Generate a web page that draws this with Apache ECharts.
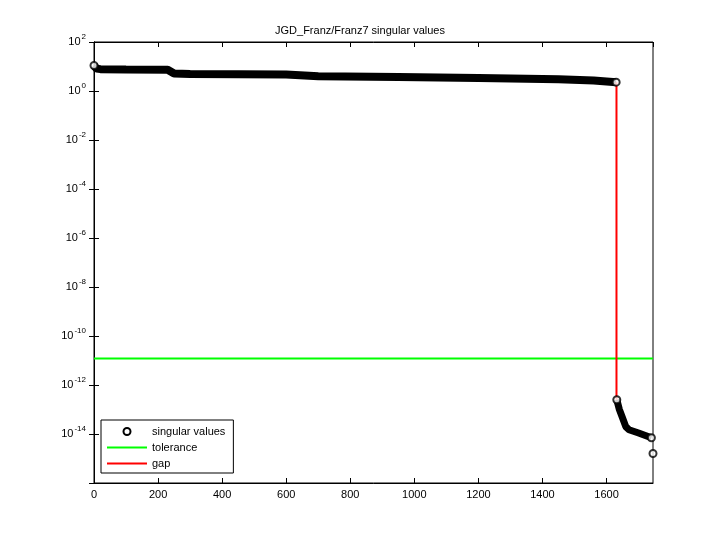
<!DOCTYPE html>
<html><head><meta charset="utf-8">
<script src="https://cdn.jsdelivr.net/npm/echarts@6/dist/echarts.min.js"></script>
<style>html,body{margin:0;background:#fff}#c{width:720px;height:540px}</style>
</head><body><div id="c"></div>
<script>
// singular values at breakpoints
var svIndex = [0, 8, 20, 100, 230, 250, 300, 600, 700, 950, 1200, 1450, 1560, 1630];
var svValue = [11, 8.2, 7.8, 7.6, 7.4, 5.2, 4.9, 4.7, 4.0, 3.7, 3.4, 3.0, 2.7, 2.3];
var tailIndex = [1632, 1640, 1650, 1660, 1670, 1700, 1740];
var tailValue = [2.5e-13, 1.0e-13, 4.5e-14, 2.0e-14, 1.5e-14, 1.1e-14, 7e-15];
var lastPoint = [1745, 1.6e-15];
var tolerance = 1.2e-11;
var gapIndex = 1631;
var gapTop = 2.3, gapBottom = 2.5e-13;

var sv = svIndex.map(function (x, i) { return [x, svValue[i]]; });
var tail = tailIndex.map(function (x, i) { return [x, tailValue[i]]; });

var chart = echarts.init(document.getElementById('c'));
var font = 'Liberation Sans';
var supFmt = function (v) {
  var e = Math.round(Math.log10(v));
  return '10{s|' + e + '}';
};
var line = {lineStyle: {color: '#000'}};
var tick = {show: true, inside: true, length: 5, lineStyle: {color: '#000'}};
var lineIcon = 'path://M0,0h40v2h-40z';
chart.setOption({
  animation: false,
  textStyle: {fontFamily: font},
  title: {text: 'JGD_Franz/Franz7 singular values', left: 'center', top: 20,
    textStyle: {fontSize: 11, fontWeight: 'normal', color: '#000', fontFamily: font}},
  grid: {left: 94, right: 67, top: 42, bottom: 57, show: true, borderColor: '#000', borderWidth: 1},
  legend: {
    orient: 'vertical', left: 101, top: 420, itemGap: 5, itemWidth: 40, itemHeight: 7,
    borderColor: '#000', borderWidth: 1, backgroundColor: '#fff', padding: [6, 8, 4, 6],
    textStyle: {fontSize: 11, color: '#000', fontFamily: font},
    data: [
      {name: 'singular values', icon: 'circle', itemStyle: {color: '#fff', borderColor: '#000', borderWidth: 2}},
      {name: 'tolerance', icon: lineIcon},
      {name: 'gap', icon: lineIcon}
    ]
  },
  xAxis: [
    {type: 'value', min: 0, max: 1745, interval: 200, axisLine: line, axisTick: tick, splitLine: {show: false},
      axisLabel: {color: '#000', fontSize: 11, margin: 6, showMaxLabel: false, formatter: function (v) { return String(v); }}},
    {type: 'value', min: 0, max: 1745, interval: 200, position: 'top', axisLine: line, axisTick: tick,
      splitLine: {show: false}, axisLabel: {show: false}}
  ],
  yAxis: [
    {type: 'log', logBase: 10, min: 1e-16, max: 1e2, interval: 2, axisLine: line, axisTick: tick, splitLine: {show: false},
      axisLabel: {color: '#000', fontSize: 11, margin: 8, formatter: supFmt, showMinLabel: false,
        rich: {s: {fontSize: 8, verticalAlign: 'top', padding: [0, 0, 10, 1]}}}},
    {type: 'log', logBase: 10, min: 1e-16, max: 1e2, interval: 2, position: 'right', axisLine: line, axisTick: tick,
      splitLine: {show: false}, axisLabel: {show: false}}
  ],
  series: [
    {name: 'singular values', type: 'line', data: sv, showSymbol: false,
      lineStyle: {color: '#000', width: 8}, itemStyle: {color: '#fff', borderColor: '#000', borderWidth: 2}},
    {name: 'singular values', type: 'line', data: tail, showSymbol: false,
      lineStyle: {color: '#000', width: 7}, itemStyle: {color: '#fff', borderColor: '#000', borderWidth: 2}},
    {name: 'tolerance', type: 'line', data: [[0, tolerance], [1745, tolerance]], showSymbol: false,
      lineStyle: {color: '#00ff00', width: 2}, itemStyle: {color: '#00ff00'}},
    {name: 'gap', type: 'line', data: [[gapIndex, gapTop], [gapIndex, gapBottom]], showSymbol: false,
      lineStyle: {color: '#ff0000', width: 2}, itemStyle: {color: '#ff0000'}},
    {name: 'singular values', type: 'scatter', symbol: 'circle', symbolSize: 7, z: 10,
      data: [sv[0], sv[sv.length - 1], tail[0], tail[tail.length - 1], lastPoint],
      itemStyle: {color: '#fff', borderColor: '#000', borderWidth: 2}}
  ]
});
</script></body></html>
